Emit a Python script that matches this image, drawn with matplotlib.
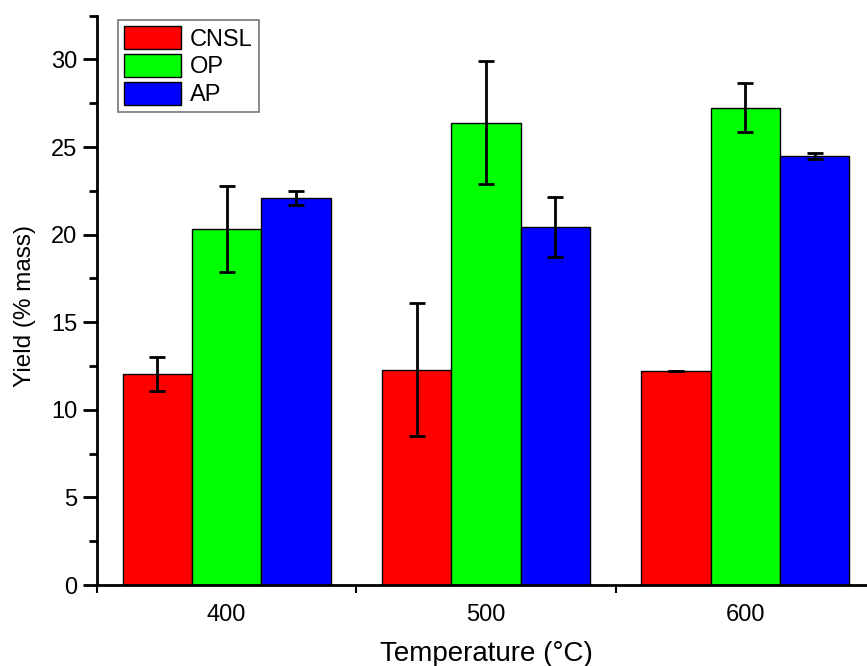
import numpy as np
import matplotlib
matplotlib.use("Agg")
import matplotlib.pyplot as plt
from matplotlib.ticker import MultipleLocator

plt.rcParams['font.family'] = ['Liberation Sans', 'DejaVu Sans']

temps = [400, 500, 600]
series = ["CNSL", "OP", "AP"]
colors = ["#ff0000", "#00ff00", "#0000ff"]

cnsl = [12.05, 12.3, 12.2]
op = [20.3, 26.4, 27.25]
ap = [22.1, 20.45, 24.5]

cnsl_err = [0.95, 3.8, 0.0]
op_err = [2.45, 3.5, 1.4]
ap_err = [0.4, 1.7, 0.17]

values = [cnsl, op, ap]
errors = [cnsl_err, op_err, ap_err]

fig = plt.figure(figsize=(8.67, 6.66), dpi=100)
ax = fig.add_axes([97 / 867, 81 / 666, 778 / 867, 569.3 / 666])

width = 26.7
x = np.array(temps, dtype=float)
for i, (name, vals, errs, c) in enumerate(zip(series, values, errors, colors)):
    pos = x + (i - 1) * width
    ax.bar(pos, vals, width, color=c, edgecolor="black", linewidth=1.0, label=name, zorder=2)
    ax.errorbar(pos, vals, yerr=errs, fmt="none", ecolor="black", elinewidth=2,
                capsize=6, capthick=2, zorder=3)

ax.set_xlim(350, 650)
ax.set_ylim(0, 32.5)
ax.set_xticks(temps)
ax.xaxis.set_minor_locator(MultipleLocator(50))
ax.yaxis.set_major_locator(MultipleLocator(5))
ax.yaxis.set_minor_locator(MultipleLocator(2.5))

for s in ["top", "right"]:
    ax.spines[s].set_visible(False)
ax.spines["left"].set_linewidth(2)
ax.spines["bottom"].set_linewidth(2)

ax.tick_params(axis="y", which="major", direction="out", length=10, width=2, labelsize=17, pad=4)
ax.tick_params(axis="y", which="minor", direction="out", length=6, width=2)
ax.tick_params(axis="x", which="major", direction="in", length=0, labelsize=17, pad=14)
ax.tick_params(axis="x", which="minor", direction="out", length=6, width=1.5)

ax.set_xlabel("Temperature (°C)", fontsize=20)
ax.xaxis.set_label_coords(0.5, -0.098)
ax.set_ylabel("Yield (% mass)", fontsize=17.5)
ax.yaxis.set_label_coords(-0.079, 0.49)

leg = ax.legend(loc="upper left", bbox_to_anchor=(0.027, 0.992), fontsize=17, frameon=True,
                fancybox=False, edgecolor="#555555", handlelength=2.4, handleheight=1.1,
                handletextpad=0.4, borderpad=0.25, labelspacing=0.15, borderaxespad=0)
leg.get_frame().set_linewidth(1.2)

fig.savefig("out.png", dpi=100)
